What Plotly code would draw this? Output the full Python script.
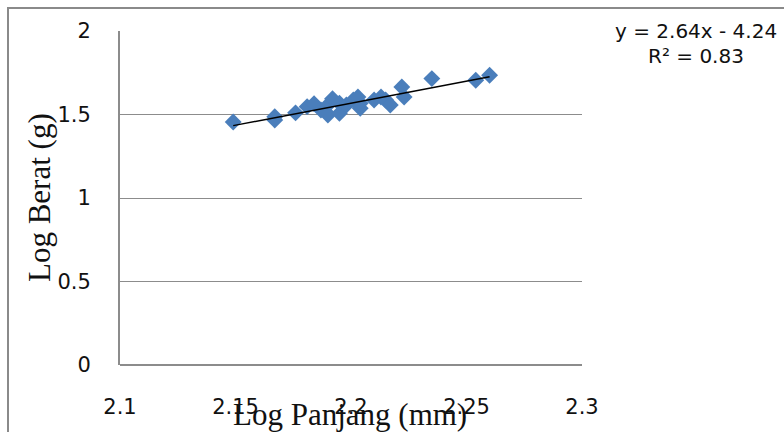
import plotly.graph_objects as go
import numpy as np

# Data
log_panjang = [2.149, 2.167, 2.167, 2.176, 2.181, 2.184, 2.187, 2.189, 2.190, 2.192,
               2.190, 2.195, 2.195, 2.198, 2.201, 2.203, 2.204, 2.204, 2.210, 2.213,
               2.215, 2.217, 2.222, 2.223, 2.235, 2.254, 2.260]
log_berat = [1.455, 1.487, 1.467, 1.510, 1.547, 1.565, 1.527, 1.517, 1.557, 1.595,
             1.497, 1.507, 1.567, 1.557, 1.587, 1.605, 1.537, 1.567, 1.587, 1.605,
             1.587, 1.557, 1.665, 1.605, 1.715, 1.705, 1.735]

slope = 2.64
intercept = -4.24
r2 = 0.83

x_ticks = [2.1, 2.15, 2.2, 2.25, 2.3]
x_ticklabels = ["2.1", "2.15", "2.2", "2.25", "2.3"]
y_ticks = [0, 0.5, 1, 1.5, 2]
y_ticklabels = ["0", "0.5", "1", "1.5", "2"]

trend_x = [min(log_panjang), max(log_panjang)]
trend_y = [slope * v + intercept for v in trend_x]

fig = go.Figure()
fig.add_trace(go.Scatter(
    x=log_panjang, y=log_berat, mode="markers",
    marker=dict(symbol="diamond", size=13, color="#4A7EBB", line=dict(width=0)),
    showlegend=False, hoverinfo="x+y"))
fig.add_trace(go.Scatter(
    x=trend_x, y=trend_y, mode="lines",
    line=dict(color="black", width=1.5), showlegend=False, hoverinfo="skip"))

L, R, T, B = 120, 784 - 582, 31, 432 - 365
W = 784 - L - R
H = 432 - T - B

def px(xp):
    return (xp - L) / W

def py(yp):
    return (432 - B - yp) / H

tick_font = dict(family="DejaVu Sans", size=21, color="#111111")
title_font = dict(family="Liberation Serif", size=31, color="#111111")

fig.update_layout(
    width=784, height=432,
    margin=dict(l=L, r=R, t=T, b=B, autoexpand=False),
    paper_bgcolor="white", plot_bgcolor="white",
    xaxis=dict(range=[2.1, 2.3], tickvals=x_ticks, ticktext=x_ticklabels,
               showgrid=False, zeroline=False, showline=False,
               ticks="", ticklabelstandoff=27, tickfont=tick_font, fixedrange=True),
    yaxis=dict(range=[0, 2], tickvals=y_ticks, ticktext=y_ticklabels,
               showgrid=True, gridcolor="#8c8c8c", gridwidth=1,
               zeroline=False, showline=True, linecolor="#8c8c8c", linewidth=2,
               ticks="", ticklabelstandoff=23, tickfont=tick_font, fixedrange=True),
    annotations=[
        dict(text="Log Berat (g)", xref="paper", yref="paper", x=px(39), y=py(198),
             textangle=-90, showarrow=False, font=title_font,
             xanchor="center", yanchor="middle"),
        dict(text="Log Panjang (mm)", xref="paper", yref="paper", x=px(350), y=py(414),
             showarrow=False, font=title_font, xanchor="center", yanchor="middle"),
        dict(text=f"y = {slope:.2f}x - {abs(intercept):.2f}", xref="paper", yref="paper",
             x=px(696), y=py(31), showarrow=False,
             font=dict(family="DejaVu Sans", size=20, color="#111111"),
             xanchor="center", yanchor="middle"),
        dict(text=f"R² = {r2:.2f}", xref="paper", yref="paper",
             x=px(696), y=py(56), showarrow=False,
             font=dict(family="DejaVu Sans", size=20, color="#111111"),
             xanchor="center", yanchor="middle"),
    ],
    shapes=[
        dict(type="path", xref="paper", yref="paper",
             path=f"M {px(8)} {py(440)} L {px(8)} {py(8)} L {px(790)} {py(8)}",
             line=dict(color="#8a8a8a", width=2)),
        dict(type="line", xref="paper", yref="paper", x0=0, x1=1, y0=0, y1=0,
             line=dict(color="#8c8c8c", width=2)),
    ],
)

fig.write_html("out.html")
